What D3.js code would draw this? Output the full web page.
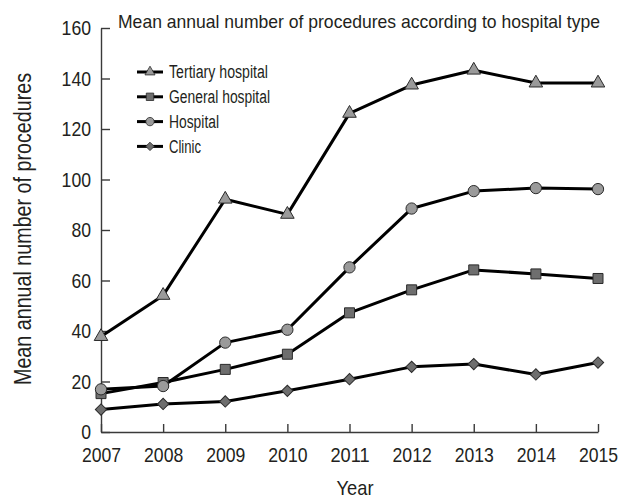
<!DOCTYPE html>
<html>
<head>
<meta charset="utf-8">
<script src="https://cdn.jsdelivr.net/npm/d3@7"></script>
<style>
  body { margin: 0; background: #fff; }
  text { font-family: "Liberation Sans", Arial, sans-serif; fill: #231f20; }
</style>
</head>
<body>
<svg width="630" height="499"></svg>
<script>
const years = [2007, 2008, 2009, 2010, 2011, 2012, 2013, 2014, 2015];
const tertiary = [37.8, 54.1, 92.2, 86.2, 126.2, 137.4, 143.3, 138.2, 138.2];
const general = [15.2, 19.6, 24.8, 30.8, 47.2, 56.3, 64.2, 62.6, 60.8];
const hospital = [16.9, 18.2, 35.4, 40.5, 65.2, 88.5, 95.4, 96.6, 96.2];
const clinic = [8.9, 11.1, 12.1, 16.3, 20.9, 25.8, 26.9, 22.8, 27.5];
const seriesNames = ["Tertiary hospital", "General hospital", "Hospital", "Clinic"];
const yTicks = [0, 20, 40, 60, 80, 100, 120, 140, 160];

const seriesValues = [tertiary, general, hospital, clinic];
const shapes = [d3.symbolTriangle, d3.symbolSquare, d3.symbolCircle, d3.symbolSquare];
const fills = ["#9a9a9a", "#6e6e6e", "#9a9a9a", "#6e6e6e"];
const sizes = [80, 100, 100, 64];
const rotations = [0, 0, 0, 45];
// the reference uses a condensed face, so widths are forced
const legendWidths = [99, 101, 50, 32];
const digitWidth = 9.8;

const margin = {left: 101, top: 28};
const width = 497;
const height = 404;

const svg = d3.select("svg");

const xScale = d3.scaleLinear()
    .domain([2007, 2015])
    .range([0, width]);

const yScale = d3.scaleLinear()
    .domain([0, 160])
    .range([height, 0]);

const g = svg.append("g")
    .attr("transform", "translate(" + margin.left + "," + margin.top + ")");

var xAxis = d3.axisBottom(xScale)
    .tickValues(years)
    .tickFormat(d3.format("d"))
    .tickSizeInner(-8)
    .tickSizeOuter(0);

var yAxis = d3.axisLeft(yScale)
    .tickValues(yTicks)
    .tickSizeInner(-9)
    .tickSizeOuter(0)
    .tickPadding(10);

const gx = g.append("g")
    .attr("transform", "translate(0," + height + ")")
    .call(xAxis);
gx.selectAll("text")
    .attr("y", 30)
    .attr("dy", null);

const gy = g.append("g").call(yAxis);

svg.selectAll(".tick text")
    .attr("font-size", 21)
    .attr("font-family", null)
    .attr("fill", "#231f20")
    .attr("textLength", function () { return this.textContent.length * digitWidth; })
    .attr("lengthAdjust", "spacingAndGlyphs");

svg.selectAll(".domain, .tick line")
    .attr("stroke", "#3a3a3a")
    .attr("stroke-width", 1.4);

const line = d3.line()
    .x((d, i) => xScale(years[i]))
    .y(d => yScale(d));

seriesValues.forEach(function (vals, s) {
    g.append("path")
        .datum(vals)
        .attr("fill", "none")
        .attr("stroke", "#000")
        .attr("stroke-width", 3)
        .attr("stroke-linejoin", "round")
        .attr("d", line);
});

seriesValues.forEach(function (vals, s) {
    g.selectAll(".m" + s)
        .data(vals)
        .enter()
        .append("path")
        .attr("transform", (d, i) => "translate(" + xScale(years[i]) + "," + yScale(d) + ") rotate(" + rotations[s] + ")")
        .attr("d", d3.symbol().type(shapes[s]).size(sizes[s]))
        .attr("fill", fills[s])
        .attr("stroke", "#2a2a2a")
        .attr("stroke-width", 1);
});

// legend
const legend = svg.append("g");
seriesNames.forEach(function (name, s) {
    const yy = 72 + s * 24.8;
    legend.append("line")
        .attr("x1", 137).attr("x2", 163)
        .attr("y1", yy).attr("y2", yy)
        .attr("stroke", "#000").attr("stroke-width", 3);
    legend.append("path")
        .attr("transform", "translate(150," + yy + ") rotate(" + rotations[s] + ")")
        .attr("d", d3.symbol().type(shapes[s]).size(sizes[s] * 0.55))
        .attr("fill", fills[s])
        .attr("stroke", "#2a2a2a")
        .attr("stroke-width", 0.8);
    legend.append("text")
        .attr("x", 169).attr("y", yy)
        .attr("dy", "0.35em")
        .attr("font-size", 18)
        .attr("textLength", legendWidths[s])
        .attr("lengthAdjust", "spacingAndGlyphs")
        .text(name);
});

svg.append("text")
    .attr("x", 118).attr("y", 28)
    .attr("font-size", 18.5)
    .attr("textLength", 482)
    .attr("lengthAdjust", "spacingAndGlyphs")
    .text("Mean annual number of procedures according to hospital type");

svg.append("text")
    .attr("x", 355).attr("y", 495)
    .attr("text-anchor", "middle")
    .attr("font-size", 21)
    .attr("textLength", 37)
    .attr("lengthAdjust", "spacingAndGlyphs")
    .text("Year");

svg.append("text")
    .attr("transform", "translate(31,229) rotate(-90)")
    .attr("text-anchor", "middle")
    .attr("font-size", 23.5)
    .attr("textLength", 312)
    .attr("lengthAdjust", "spacingAndGlyphs")
    .text("Mean annual number of procedures");
</script>
</body>
</html>
